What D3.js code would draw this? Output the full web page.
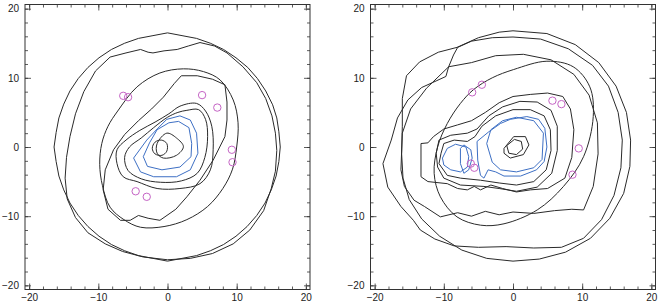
<!DOCTYPE html>
<html><head><meta charset="utf-8">
<script src="https://cdn.jsdelivr.net/npm/d3@7"></script>
<style>body{margin:0;background:#fff}svg{display:block}text{font-family:"Liberation Sans",Arial,sans-serif}</style>
</head><body><svg id="c" width="660" height="305"></svg>
<script>
// ---------- data (all in plot units) ----------
const majorTicks = [-20,-10,0,10,20];
const minorTicks = [-20,-18,-16,-14,-12,-10,-8,-6,-4,-2,0,2,4,6,8,10,12,14,16,18,20];

// Left panel contours (black)
const leftA = [[16.3,0],[16.1,2.2],[15.8,4.2],[15.2,6.1],[14.2,8.1],[13.0,9.9],[11.6,11.5],[9.9,12.9],[8.1,14.1],[6.2,15.0],[4.2,15.7],[2.1,16.1],[0,16.5],[-2.1,16.1],[-4.2,15.7],[-6.2,15.0],[-8.1,14.1],[-9.9,12.9],[-11.5,11.5],[-12.9,9.9],[-14.1,8.1],[-15.0,6.2],[-15.7,4.2],[-16.1,2.1],[-16.4,0],[-16.1,-2.1],[-15.7,-4.2],[-15.0,-6.2],[-14.1,-8.1],[-12.9,-9.9],[-11.5,-11.5],[-9.9,-12.9],[-8.1,-14.1],[-6.2,-15.0],[-4.2,-15.7],[-2.1,-16.1],[0,-16.5],[2.1,-16.1],[4.2,-15.7],[6.2,-15.0],[8.1,-14.1],[9.9,-12.9],[11.5,-11.5],[12.9,-9.9],[14.1,-8.1],[15.0,-6.2],[15.7,-4.2],[16.1,-2.1]];
const leftB = [[-8.3,13.0],[-6.0,13.6],[-3.9,14.1],[-2.8,13.7],[-2.1,13.6],[-0.5,13.9],[1.4,14.1],[3.0,14.6],[4.7,15.1],[6.8,14.6],[8.6,13.6],[10.9,11.6],[12.9,9.3],[14.2,7.0],[15.1,4.5],[15.6,2.0],[15.8,-0.5],[15.6,-3.5],[15.0,-6.0],[13.9,-9.2],[11.9,-12.0],[9.5,-14.0],[6.5,-15.4],[3.3,-16.1],[0,-16.3],[-3.5,-15.9],[-6.5,-15.1],[-9.0,-14.0],[-11.5,-12.4],[-13.3,-10.2],[-14.5,-7.5],[-14.8,-4.5],[-14.6,-1.5],[-14.1,1.5],[-13.3,4.8],[-12.1,8.0],[-10.4,11.0]];
const leftC = [[2.3,11.3],[5.2,10.9],[7.6,9.7],[9.5,6.8],[10.2,3.5],[10.0,0],[9.4,-3.2],[8.0,-6.0],[5.8,-8.6],[2.8,-10.5],[-0.5,-11.5],[-3.9,-11.6],[-6.3,-10.5],[-8.3,-8.7],[-9.4,-5.6],[-9.8,-2.5],[-9.5,0.5],[-8.6,3.0],[-7.2,5.2],[-4.4,8.7],[-1.1,10.7]];
const leftD = [[-8.6,-9.0],[-9.3,-6.2],[-9.0,-3.3],[-7.8,-0.4],[-6.2,1.8],[-4.2,3.8],[-2.3,5.5],[-0.6,7.2],[1.0,9.2],[2.0,10.3],[4.3,10.3],[6.5,9.8],[8.3,9.0],[8.6,6.5],[8.6,3.9],[8.3,1.5],[6.6,-1.9],[4.7,-4.8],[2.8,-7.2],[1.2,-9.0],[-1.1,-10.6],[-2.8,-10.3],[-4.2,-9.9],[-5.4,-10.6],[-6.8,-10.6]];
const leftE1 = [[4.2,6.3],[5.5,5.2],[6.4,3.0],[6.6,-0.4],[6.2,-3.3],[4.7,-5.3],[1.8,-6.0],[-1.5,-6.0],[-4.4,-5.0],[-6.4,-4.3],[-7.3,-2.4],[-7.3,-0.4],[-6.0,1.0],[-4.0,2.4],[-1.8,3.6],[0.2,4.8],[1.8,5.9]];
const leftE2 = [[4.5,5.4],[5.5,4.0],[5.8,1.5],[5.4,-1.5],[4.3,-3.8],[2.0,-4.9],[-1.0,-5.1],[-3.8,-4.6],[-5.7,-3.4],[-6.2,-1.5],[-5.5,0],[-3.8,1.3],[-2.0,2.8],[0,4.3],[1.5,5.0],[2.8,5.3]];
const leftHex = [[-1.5,0.5],[-0.1,2.0],[1.3,1.3],[2.3,0.05],[1.3,-1.2],[-0.6,-1.6],[-1.5,-0.9]];
const leftCore = [[-2.2,-0.2],[-1.8,0.7],[-0.9,1.0],[-0.1,0.5],[-0.1,-0.6],[-0.8,-1.2],[-1.8,-1.0]];
// Left panel contours (blue)
const leftBlueOuter = [[-4.9,-1.6],[-3.0,1.0],[-1.5,2.6],[-0.1,4.0],[1.8,4.5],[3.3,3.9],[4.2,2.0],[4.4,-0.9],[3.3,-3.3],[1.3,-4.3],[-2.0,-4.3],[-3.9,-3.6]];
const leftBlueInner = [[-3.5,-1.4],[-2.6,0.6],[-1.5,2.5],[0.2,3.5],[1.6,3.7],[3.1,2.8],[3.5,0.5],[3.4,-1.4],[1.8,-2.9],[-0.8,-3.3],[-2.9,-2.8]];
const leftMarks = [[-6.4,7.4],[-5.7,7.2],[5.0,7.5],[7.2,5.7],[9.3,-0.4],[9.4,-2.2],[-4.6,-6.4],[-3.0,-7.2]];

// Right panel contours (black)
const rightRound = [[0,16.8],[4.9,16.4],[9.0,14.8],[12.4,12.2],[14.9,8.8],[16.4,5.0],[17.0,1.0],[16.9,-2.8],[16.0,-6.7],[14.0,-10.3],[11.2,-13.2],[7.6,-15.2],[3.8,-16.2],[0,-16.5],[-3.8,-16.1],[-7.4,-14.9],[-10.6,-12.9],[-13.2,-10.4],[-15.0,-7.6],[-15.9,-4.5],[-16.1,-1.0],[-16.0,3.0],[-16.0,7.0],[-15.4,10.3],[-13.5,12.3],[-10.8,13.7],[-8.1,14.4],[-5.0,15.8],[-2.0,16.6]];
const rightBulge = [[-18.8,-2.4],[-17.6,1.0],[-16.7,4.2],[-15.2,6.8],[-13.2,8.6],[-11.0,9.6],[-9.7,10.2],[-9.3,11.6],[-8.6,13.3],[-8.0,14.4],[-6.0,15.3],[-3.0,15.8],[0,15.9],[4.0,15.6],[8.0,14.2],[11.5,11.8],[13.8,8.8],[15.2,5.0],[15.8,1.0],[15.6,-3.0],[14.6,-7.0],[12.8,-10.5],[10.2,-13.2],[7.0,-14.5],[3.0,-14.6],[-1.0,-14.4],[-5.0,-14.5],[-8.5,-14.3],[-11.3,-13.3],[-13.4,-12.0],[-14.4,-10.6],[-16.2,-8.6],[-18.1,-5.8]];
const rightJag = [[-16.0,2.0],[-16.2,-3.3],[-15.7,-5.7],[-14.3,-7.7],[-12.8,-8.6],[-10.5,-10.1],[-8.0,-9.5],[-6.0,-10.0],[-4.0,-9.3],[-2.0,-9.8],[0,-9.4],[3.0,-9.6],[6.0,-9.2],[8.5,-9.0],[10.2,-9.1],[11.6,-5.7],[12.3,-1.0],[12.2,3.5],[11.0,7.5],[8.8,10.5],[5.5,12.6],[1.5,13.4],[-2.5,13.2],[-6.0,12.2],[-9.3,11.6],[-12.5,8.5],[-14.8,5.5]];
const rightC = [[0.1,11.2],[4.9,12.4],[8.7,11.6],[11.1,8.7],[11.6,4.4],[10.2,-1.4],[7.3,-5.7],[3.5,-9.1],[-1.3,-11.1],[-4.7,-11.3],[-8.1,-10.1],[-10.5,-7.2],[-11.4,-3.8],[-10.9,0],[-9.5,3.4],[-7.6,6.3],[-5.7,8.3],[-3.0,10.0]];
const rightStep = [[-13.3,0.5],[-12.3,0.6],[-11.5,1.5],[-10.0,2.6],[-8.0,3.2],[-6.0,3.8],[-4.0,5.0],[-2.0,6.4],[0,7.3],[2.5,7.6],[5.0,7.8],[7.2,7.3],[8.3,5.5],[8.8,2.5],[8.5,-1.5],[7.5,-4.5],[5.0,-6.0],[2.5,-6.2],[0.5,-6.5],[-1.5,-6.0],[-3.2,-5.5],[-4.7,-6.2],[-5.6,-5.7],[-6.6,-6.2],[-8.0,-6.0],[-9.5,-5.3],[-12.3,-5.0],[-13.3,-4.3]];
const rightP1 = [[-10.4,-0.9],[-10.0,0.5],[-8.5,1.0],[-6.6,0.8],[-5.5,1.5],[-4.5,3.0],[-2.5,4.5],[0,5.4],[2.5,5.4],[4.5,4.5],[5.4,2.5],[5.5,-0.5],[4.8,-3.3],[3.0,-5.0],[0.5,-5.5],[-2.0,-5.2],[-4.7,-4.8],[-7.6,-4.5],[-9.5,-4.1],[-10.7,-2.4]];
const rightP2 = [[-11.1,-0.9],[-10.7,1.0],[-9.0,1.7],[-6.6,2.0],[-5.2,2.6],[-3.5,4.5],[-1.5,5.8],[1.0,6.6],[3.5,6.5],[5.5,5.3],[6.4,3.0],[6.4,-0.5],[5.6,-3.8],[3.5,-5.8],[0.5,-6.4],[-2.0,-6.0],[-4.2,-5.7],[-7.6,-5.5],[-10.0,-4.5],[-10.9,-2.9]];
const rightCore1 = [[-1.3,-0.2],[0.1,1.5],[1.8,1.5],[2.3,0.3],[1.5,-1.1],[-0.4,-1.6],[-1.3,-0.9]];
const rightCore2 = [[-0.9,0.2],[0.2,1.1],[1.2,0.8],[1.4,-0.3],[0.5,-1.1],[-0.6,-0.9]];
// Right panel contours (blue)
const rightBlueLeft = [[-10.2,-1.6],[-9.5,-0.2],[-8.3,0.4],[-6.8,0.0],[-6.4,-1.4],[-6.6,-2.9],[-7.6,-3.6],[-9.0,-3.3],[-10.0,-2.6]];
const rightBlueLens = [[-7.6,-0.2],[-7.1,0.3],[-6.1,-0.4],[-5.9,-1.6],[-6.4,-3.3],[-7.1,-3.8],[-7.6,-2.4]];
const rightBlue1 = [[-5.2,0.8],[-3.5,2.2],[-1.8,3.4],[-0.4,4.0],[2.0,4.4],[3.7,4.0],[4.6,2.7],[4.9,0],[4.5,-2.1],[3.4,-3.3],[1.1,-4.2],[-1.3,-4.2],[-2.5,-3.6],[-3.6,-3.3],[-4.2,-4.5],[-4.7,-4.1],[-5.1,-1.9]];
const rightBlue2 = [[-3.8,0.5],[-3.2,2.5],[-1.5,3.8],[0.5,4.3],[3.0,3.8],[4.4,2.0],[4.2,-1.8],[3.0,-3.0],[0.5,-3.6],[-1.8,-3.3],[-3.0,-2.2]];
const rightMarks = [[-5.9,7.9],[-4.5,9.0],[5.7,6.7],[7.0,6.2],[9.5,-0.2],[8.6,-4.0],[-6.1,-2.4],[-5.6,-3.0]];

// ---------- drawing ----------
const svg = d3.select("#c");
const BLACK = "#2a2a2a", BLUE = "#3d6fc4", MAG = "#c564c5";

function panel(x0, x1, black, smoothBlack, blue, marks){
  const xs = d3.scaleLinear().domain([-20.6,20.6]).range([x0,x1]);
  const ys = d3.scaleLinear().domain([-20.6,20.6]).range([289.5,4.5]);
  const g = svg.append("g");
  const lin = d3.line().x(d=>xs(d[0])).y(d=>ys(d[1])).curve(d3.curveLinearClosed);
  const smo = d3.line().x(d=>xs(d[0])).y(d=>ys(d[1])).curve(d3.curveCatmullRomClosed.alpha(0.5));
  black.forEach(c=>g.append("path").attr("d",lin(c)).attr("fill","none").attr("stroke",BLACK).attr("stroke-width",1));
  smoothBlack.forEach(c=>g.append("path").attr("d",smo(c)).attr("fill","none").attr("stroke",BLACK).attr("stroke-width",1));
  blue.forEach(c=>g.append("path").attr("d",lin(c)).attr("fill","none").attr("stroke",BLUE).attr("stroke-width",1));
  g.selectAll("circle.m").data(marks).join("circle").attr("class","m")
    .attr("cx",d=>xs(d[0])).attr("cy",d=>ys(d[1])).attr("r",3.7)
    .attr("fill","none").attr("stroke",MAG).attr("stroke-width",1);
  const yb = ys.range()[0], yt = ys.range()[1];
  const fmt = d3.format("d");
  const ax = [
    [d3.axisBottom(xs).tickValues(majorTicks).tickSize(-6).tickPadding(4).tickFormat(fmt), `translate(0,${yb})`],
    [d3.axisBottom(xs).tickValues(minorTicks).tickSize(-3).tickFormat(""), `translate(0,${yb})`],
    [d3.axisTop(xs).tickValues(majorTicks).tickSize(-6).tickFormat(""), `translate(0,${yt})`],
    [d3.axisTop(xs).tickValues(minorTicks).tickSize(-3).tickFormat(""), `translate(0,${yt})`],
    [d3.axisLeft(ys).tickValues(majorTicks).tickSize(-6).tickPadding(6).tickFormat(fmt), `translate(${x0},0)`],
    [d3.axisLeft(ys).tickValues(minorTicks).tickSize(-3).tickFormat(""), `translate(${x0},0)`],
    [d3.axisRight(ys).tickValues(majorTicks).tickSize(-6).tickFormat(""), `translate(${x1},0)`],
    [d3.axisRight(ys).tickValues(minorTicks).tickSize(-3).tickFormat(""), `translate(${x1},0)`]
  ];
  ax.forEach(([a,t])=>{
    const ag = g.append("g").attr("transform",t).call(a);
    ag.select(".domain").remove();
    ag.selectAll("line").attr("stroke","#333").attr("stroke-width",0.8);
    ag.selectAll("text").attr("font-size",10).attr("fill","#222")
      .attr("font-family","'Liberation Sans',Arial,sans-serif");
  });
  g.append("rect").attr("x",x0).attr("y",yt).attr("width",x1-x0).attr("height",yb-yt)
    .attr("fill","none").attr("stroke","#333").attr("stroke-width",1);
}

panel(25, 310, [leftA, leftB, leftD], [leftC, leftE1, leftE2, leftHex, leftCore], [leftBlueOuter, leftBlueInner], leftMarks);
panel(370.5, 655.5, [rightRound, rightBulge, rightJag, rightStep, rightP1, rightP2, rightCore1, rightCore2], [rightC], [rightBlueLeft, rightBlueLens, rightBlue1, rightBlue2], rightMarks);
</script>
</body></html>
